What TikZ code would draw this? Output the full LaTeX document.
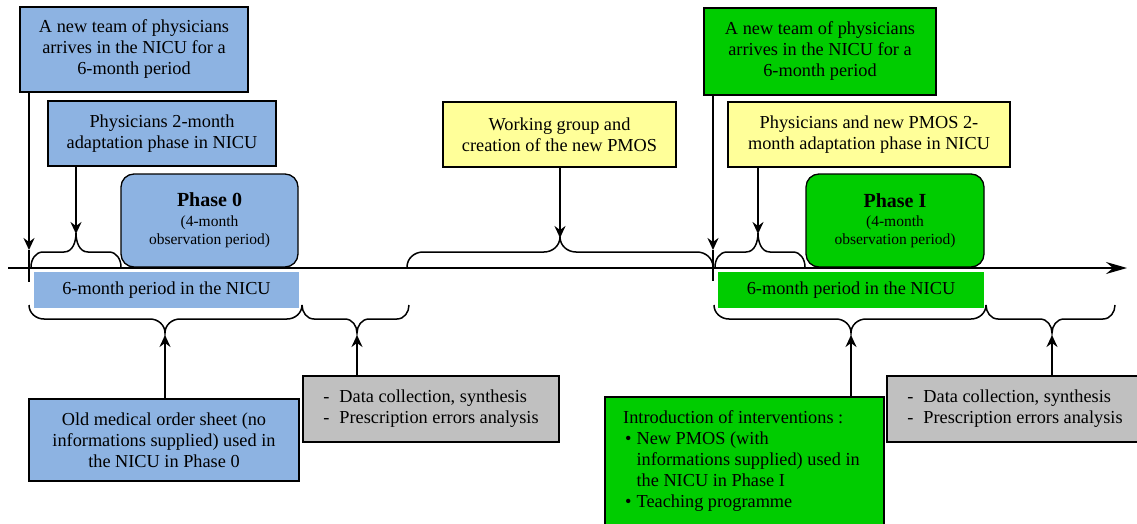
\documentclass[tikz,border=0pt]{standalone}
\usepackage{fontspec}
\setmainfont{Liberation Serif}
\usetikzlibrary{arrows.meta}
\definecolor{pblue}{RGB}{141,179,226}
\definecolor{pgreen}{RGB}{0,204,0}
\definecolor{pyellow}{RGB}{255,255,153}
\definecolor{pgray}{RGB}{192,192,192}
% upward brace: x1 x2 xm y0 y1 y2 r  (pixel coordinates, y downward)
\newcommand{\upbrace}[7]{%
  \draw[bracestyle] (#1,-#4) to[out=90,in=180] ({#1+#7},-#5) -- ({#3-#7},-#5)
    to[out=0,in=270] (#3,-#6) to[out=270,in=180] ({#3+#7},-#5) -- ({#2-#7},-#5)
    to[out=0,in=90] (#2,-#4);}
\newcommand{\downbrace}[7]{%
  \draw[bracestyle] (#1,-#4) to[out=-90,in=180] ({#1+#7},-#5) -- ({#3-#7},-#5)
    to[out=0,in=90] (#3,-#6) to[out=90,in=180] ({#3+#7},-#5) -- ({#2-#7},-#5)
    to[out=0,in=-90] (#2,-#4);}
\tikzset{
  box/.style={draw=black, line width=1.3pt, inner sep=0pt, outer sep=0pt, align=center,
    font=\fontsize{18.3}{21}\selectfont},
  phasebox/.style={box, rounded corners=13pt, font=\fontsize{15.5}{18}\selectfont},
  barbox/.style={inner sep=0pt, outer sep=0pt, minimum height=36pt,
    font=\fontsize{18.3}{21}\selectfont},
  bracestyle/.style={line width=1.5pt},
  conn/.style={line width=2pt, -{Stealth[length=12pt,width=11pt,inset=4pt]}},
  tick/.style={line width=2pt},
  axis/.style={line width=2pt, -{Stealth[length=21pt,width=12pt,inset=7pt]}},
}
\begin{document}
\begin{tikzpicture}[x=1pt,y=1pt]
\path[use as bounding box, clip] (0,0) rectangle (1137,-524);

% --- top boxes, Phase 0 side
\node[box, fill=pblue, minimum width=228pt, minimum height=85pt] (b1) at (134,-49.5)
  {A new team of physicians\\arrives in the NICU for a\\6-month period};
\node[box, fill=pblue, minimum width=228pt, minimum height=65pt] (b2) at (162,-133.5)
  {Physicians 2-month\\adaptation phase in NICU};
\node[phasebox, fill=pblue, minimum width=177pt, minimum height=93pt] (p0) at (209.5,-220.5)
  {{\fontsize{20}{22}\selectfont\bfseries Phase 0}\\[2pt](4-month\\observation period)};

% --- working group
\node[box, fill=pyellow, minimum width=233pt, minimum height=65pt] (wg) at (559.5,-134.5)
  {Working group and\\creation of the new PMOS};

% --- top boxes, Phase I side
\node[box, fill=pgreen, minimum width=232pt, minimum height=87pt] (g1) at (820,-51.5)
  {A new team of physicians\\arrives in the NICU for a\\6-month period};
\node[box, fill=pyellow, minimum width=282pt, minimum height=65pt] (y2) at (869,-134.5)
  {Physicians and new PMOS 2-\\month adaptation phase in NICU};
\node[phasebox, fill=pgreen, minimum width=178pt, minimum height=93pt] (p1) at (895,-220.5)
  {{\fontsize{20}{22}\selectfont\bfseries Phase I}\\[1pt](4-month\\observation period)};

% --- period bars
\node[barbox, fill=pblue, minimum width=265pt] (bar0) at (166.5,-290) {6-month period in the NICU};
\node[barbox, fill=pgreen, minimum width=266pt] (bar1) at (851,-290) {6-month period in the NICU};

% --- bottom boxes
\node[box, fill=pblue, minimum width=270pt, minimum height=82pt] (old) at (164,-440)
  {Old medical order sheet (no\\informations supplied) used in\\the NICU in Phase 0};
\node[box, fill=pgray, minimum width=256pt, minimum height=66pt] (dc0) at (431,-409)
  {\begin{tabular}{@{}l@{\hspace{10pt}}l@{}}-&Data collection, synthesis\\-&Prescription errors analysis\end{tabular}};
\node[box, fill=pgray, minimum width=256pt, minimum height=66pt] (dc1) at (1015,-409)
  {\begin{tabular}{@{}l@{\hspace{10pt}}l@{}}-&Data collection, synthesis\\-&Prescription errors analysis\end{tabular}};
\node[box, fill=pgreen, minimum width=279pt, minimum height=140pt, anchor=north west] (g2) at (605,-397) {};
\node[inner sep=0pt, anchor=base west, font=\fontsize{18.3}{21}\selectfont] (g2t) at (623,-423)
  {\begin{tabular}[t]{@{}l@{}}Introduction of interventions :\\
   \begin{tabular}[t]{@{\hspace{2pt}}l@{\hspace{5pt}}l@{}}\textbullet&New PMOS (with\\&informations supplied) used in\\&the NICU in Phase I\\\textbullet&Teaching programme\end{tabular}\end{tabular}};

% --- axis
\coordinate (ax0) at (8,-268);
\coordinate (ax1) at (1127,-268);
\draw[axis] (ax0) -- (ax1);

% --- braces
\upbrace{31}{121}{76}{267}{252}{233}{12}
\upbrace{407}{713}{560}{267}{252}{237}{16}
\upbrace{715}{805}{758}{267}{252}{233}{12}
\downbrace{29}{302}{165}{305}{319}{333}{15}
\downbrace{302}{409}{357}{305}{319}{333}{12}
\downbrace{714}{986}{851}{305}{319}{333}{15}
\downbrace{986}{1115}{1052}{305}{319}{333}{12}

% --- connector end points
\coordinate (t0) at (29,-250);
\coordinate (t0b) at (29,-282);
\coordinate (t1) at (713,-250);
\coordinate (t1b) at (713,-281);
\coordinate (k1) at (76,-234);
\coordinate (k2) at (560,-238);
\coordinate (k3) at (758,-234);
\coordinate (k4) at (165,-335);
\coordinate (k5) at (357,-335);
\coordinate (k6) at (851,-335);
\coordinate (k7) at (1052,-335);

% --- connectors
\draw[conn] (b1.south -| t0) -- (t0);
\draw[tick] (t0) -- (t0b);
\draw[conn] (b2.south -| k1) -- (k1);
\draw[conn] (wg.south -| k2) -- (k2);
\draw[conn] (g1.south -| t1) -- (t1);
\draw[tick] (t1) -- (t1b);
\draw[conn] (y2.south -| k3) -- (k3);
\draw[conn] (old.north -| k4) -- (k4);
\draw[conn] (dc0.north -| k5) -- (k5);
\draw[conn] (g2.north -| k6) -- (k6);
\draw[conn] (dc1.north -| k7) -- (k7);
\end{tikzpicture}
\end{document}
